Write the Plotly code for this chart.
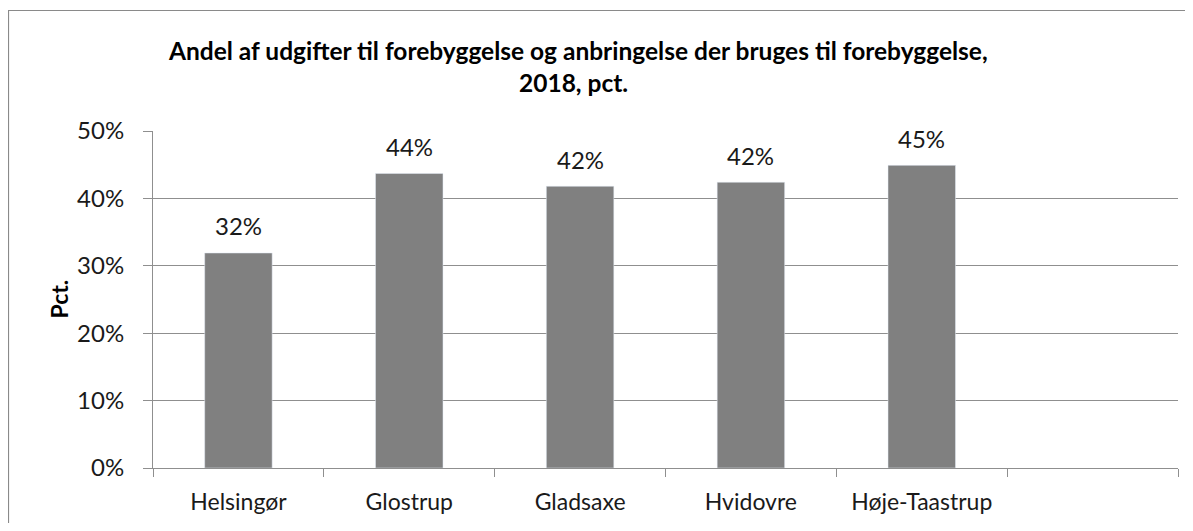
import plotly.graph_objects as go

categories = ["Helsingør", "Glostrup", "Gladsaxe", "Hvidovre", "Høje-Taastrup"]
values = [0.319, 0.437, 0.418, 0.424, 0.449]
axis_slots = categories + [" "]
title_line1 = "Andel af udgifter til forebyggelse og anbringelse der bruges til forebyggelse,"
title_line2 = "2018, pct."
y_title = "Pct."

# The page body has an 8px default margin; figure coordinates = reference - 8.
OFF = 8
W, H = 1193 - 2 * OFF, 531 - 2 * OFF
ml, mr, mt, mb = 145, 7, 123, 55
pw = W - ml - mr
ph = H - mt - mb

def px_x(x):
    return (x - OFF - ml) / pw

def px_y(y):
    return 1 - (y - OFF - mt) / ph

FONT = "Lato"
GRID = "#8f8f8f"
TXT = "#1a1a1a"

fig = go.Figure()
fig.add_trace(go.Bar(
    x=categories, y=values, marker_color="#808080", width=0.395,
    hoverinfo="skip", showlegend=False,
))

annotations = []
for c, v in zip(categories, values):
    annotations.append(dict(
        x=c, y=v, xref="x", yref="y", text=f"{round(v*100)}%",
        showarrow=False, yanchor="middle", yshift=27,
        font=dict(family=FONT, size=24, color=TXT),
    ))
annotations.append(dict(
    x=px_x(577.5), y=px_y(50), xref="paper", yref="paper", text=f"<b>{title_line1}</b>",
    showarrow=False, xanchor="center", yanchor="middle",
    font=dict(family=FONT, size=24.5, color="#000000"),
))
annotations.append(dict(
    x=px_x(573), y=px_y(83), xref="paper", yref="paper", text=f"<b>{title_line2}</b>",
    showarrow=False, xanchor="center", yanchor="middle",
    font=dict(family=FONT, size=24.5, color="#000000"),
))
annotations.append(dict(
    x=px_x(58), y=0.5, xref="paper", yref="paper", text=f"<b>{y_title}</b>",
    showarrow=False, xanchor="center", yanchor="middle", textangle=-90,
    font=dict(family=FONT, size=23, color="#000000"),
))

fig.update_layout(
    width=W, height=H,
    margin=dict(l=ml, r=mr, t=mt, b=mb, pad=0),
    paper_bgcolor="white", plot_bgcolor="white",
    annotations=annotations,
    shapes=[dict(
        type="rect", xref="paper", yref="paper",
        x0=px_x(8.5), x1=px_x(1193 + 20), y0=px_y(531 + 20), y1=px_y(10.5),
        line=dict(color="#8a8a8a", width=1.2), fillcolor="rgba(0,0,0,0)", layer="below",
    )],
    xaxis=dict(
        type="category", categoryorder="array", categoryarray=axis_slots,
        range=[-0.5, len(axis_slots) - 0.5],
        tickson="boundaries", ticks="outside", ticklen=8, tickcolor=GRID,
        showline=True, linecolor=GRID, linewidth=1,
        showgrid=False, tickfont=dict(family=FONT, size=23, color=TXT),
        ticklabelstandoff=13, fixedrange=True,
    ),
    yaxis=dict(
        range=[0, 0.5], dtick=0.1, tickformat=".0%",
        ticks="outside", ticklen=9, tickcolor=GRID,
        showline=True, linecolor=GRID, linewidth=1,
        showgrid=True, gridcolor=GRID, gridwidth=1, zeroline=False,
        tickfont=dict(family=FONT, size=24, color=TXT),
        ticklabelstandoff=14, fixedrange=True,
    ),
)

fig.write_html("out.html")
